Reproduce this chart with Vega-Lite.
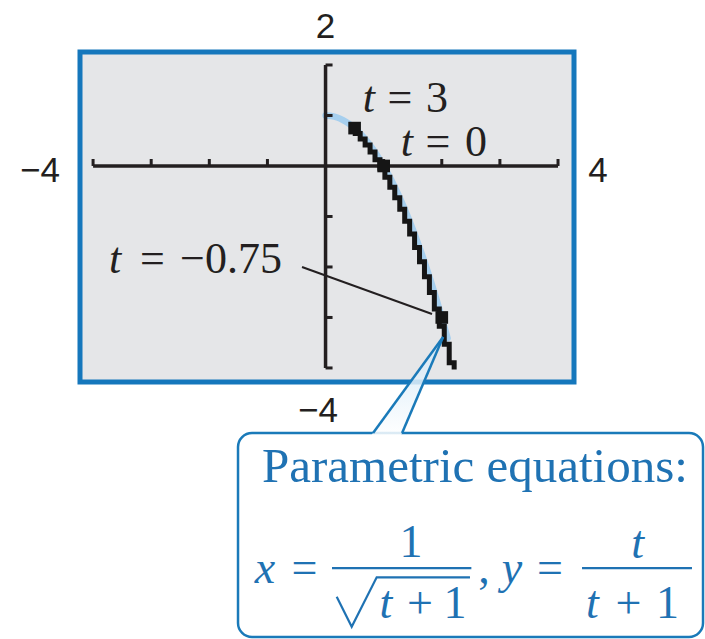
{
  "$schema": "https://vega.github.io/schema/vega-lite/v6.json",
  "autosize": {"type": "none"},
  "padding": {"left": 80, "top": 52, "right": 131, "bottom": 257},
  "width": 494,
  "height": 330,
  "background": "white",
  "config": {
    "view": {"fill": "#e5e6e8", "stroke": "#1577bc", "strokeWidth": 5}
  },
  "datasets": {
    "curve": [
      {"x": 0.0, "y": 1.0}, {"x": 0.1, "y": 0.99}, {"x": 0.2, "y": 0.96},
      {"x": 0.3, "y": 0.91}, {"x": 0.4, "y": 0.84}, {"x": 0.5, "y": 0.75},
      {"x": 0.6, "y": 0.64}, {"x": 0.7, "y": 0.51}, {"x": 0.8, "y": 0.36},
      {"x": 0.9, "y": 0.19}, {"x": 1.0, "y": 0.0}, {"x": 1.1, "y": -0.21},
      {"x": 1.2, "y": -0.44}, {"x": 1.3, "y": -0.69}, {"x": 1.4, "y": -0.96},
      {"x": 1.5, "y": -1.25}, {"x": 1.6, "y": -1.56}, {"x": 1.7, "y": -1.89},
      {"x": 1.8, "y": -2.24}, {"x": 1.9, "y": -2.61}, {"x": 2.0, "y": -3.0},
      {"x": 2.1, "y": -3.41}
    ],
    "trace": [
      {"x": 0.511, "y": 0.739}, {"x": 0.596, "y": 0.645}, {"x": 0.681, "y": 0.536},
      {"x": 0.766, "y": 0.413}, {"x": 0.851, "y": 0.276}, {"x": 0.936, "y": 0.124},
      {"x": 1.021, "y": -0.043}, {"x": 1.106, "y": -0.224}, {"x": 1.191, "y": -0.419},
      {"x": 1.277, "y": -0.63}, {"x": 1.362, "y": -0.855}, {"x": 1.447, "y": -1.094},
      {"x": 1.532, "y": -1.347}, {"x": 1.617, "y": -1.615}, {"x": 1.702, "y": -1.897},
      {"x": 1.787, "y": -2.194}, {"x": 1.872, "y": -2.505}, {"x": 1.957, "y": -2.831},
      {"x": 2.043, "y": -3.172}, {"x": 2.128, "y": -3.528}, {"x": 2.213, "y": -3.897},
      {"x": 2.213, "y": -3.98}
    ],
    "marked": [
      {"t": 3, "x": 0.5, "y": 0.75},
      {"t": 0, "x": 1.0, "y": 0.0},
      {"t": -0.75, "x": 2.0, "y": -3.0}
    ],
    "axes": [
      {"x": -4, "x2": 4, "y": 0, "y2": 0},
      {"x": 0, "x2": 0, "y": -4, "y2": 2}
    ],
    "xticks": [
      {"x": -4, "y": 0}, {"x": -3, "y": 0}, {"x": -2, "y": 0}, {"x": -1, "y": 0},
      {"x": 1, "y": 0}, {"x": 2, "y": 0}, {"x": 3, "y": 0}, {"x": 4, "y": 0}
    ],
    "yticks": [
      {"x": 0, "y": -4}, {"x": 0, "y": -3}, {"x": 0, "y": -2}, {"x": 0, "y": -1},
      {"x": 0, "y": 1}, {"x": 0, "y": 2}
    ],
    "leader": [{"x": -0.405, "y": -2.0, "x2": 1.832, "y2": -2.931}],
    "window": [
      {"label": "2", "x": 0.0, "y": 2.534},
      {"label": "−4", "x": -4.913, "y": -0.317},
      {"label": "4", "x": 4.688, "y": -0.317},
      {"label": "−4", "x": -0.13, "y": -5.07}
    ],
    "tItalic": [
      {"label": "t", "x": 0.747, "y": 1.075},
      {"label": "t", "x": 1.401, "y": 0.191},
      {"label": "t", "x": -3.623, "y": -2.12}
    ],
    "tRoman": [
      {"label": "=", "x": 1.281, "y": 1.075},
      {"label": "3", "x": 1.918, "y": 1.075},
      {"label": "=", "x": 1.935, "y": 0.191},
      {"label": "0", "x": 2.589, "y": 0.191},
      {"label": "=", "x": -2.978, "y": -2.12},
      {"label": "−0.75", "x": -1.627, "y": -2.12}
    ],
    "callout": [{"x": -1.506, "x2": 6.495, "y": -5.288, "y2": -9.328}],
    "tailFill": [
      {"y": -5.348, "x": 0.779, "x2": 1.293},
      {"y": -3.386, "x": 2.023, "x2": 2.023}
    ],
    "tailEdges": [
      {"x": 0.818, "y": -5.288, "x2": 2.023, "y2": -3.386},
      {"x": 1.317, "y": -5.288, "x2": 2.023, "y2": -3.386}
    ],
    "heading": [{"label": "Parametric equations:", "x": -1.093, "y": -6.253}],
    "mathItalic": [
      {"label": "x", "x": -1.042, "y": -8.259},
      {"label": "t", "x": 1.04, "y": -8.952},
      {"label": "y", "x": 3.208, "y": -8.259},
      {"label": "t", "x": 5.368, "y": -7.769},
      {"label": "t", "x": 4.593, "y": -8.952}
    ],
    "mathRoman": [
      {"label": "=", "x": -0.362, "y": -8.259},
      {"label": "1", "x": 1.47, "y": -7.744},
      {"label": "+", "x": 1.625, "y": -8.952},
      {"label": "1", "x": 2.227, "y": -8.952},
      {"label": ",", "x": 2.727, "y": -8.259},
      {"label": "=", "x": 3.862, "y": -8.259},
      {"label": "+", "x": 5.213, "y": -8.952},
      {"label": "1", "x": 5.884, "y": -8.952}
    ],
    "bars": [
      {"x": 0.111, "x2": 2.509, "y": -7.962, "y2": -7.962},
      {"x": 4.413, "x2": 6.305, "y": -7.962, "y2": -7.962}
    ],
    "radical": [
      {"x": 0.192, "y": -8.53},
      {"x": 0.45, "y": -9.124},
      {"x": 0.88, "y": -8.146},
      {"x": 2.485, "y": -8.146}
    ]
  },
  "encoding": {
    "x": {"field": "x", "type": "quantitative", "axis": null,
          "scale": {"domain": [-4.225, 4.275], "nice": false, "zero": false}},
    "y": {"field": "y", "type": "quantitative", "axis": null,
          "scale": {"domain": [-4.278, 2.257], "nice": false, "zero": false}}
  },
  "layer": [
    {
      "data": {"name": "curve"},
      "mark": {"type": "line", "color": "#a6cfee", "strokeWidth": 6.5, "interpolate": "monotone", "strokeCap": "round"}
    },
    {
      "data": {"name": "axes"},
      "mark": {"type": "rule", "color": "#231f20", "strokeWidth": 3.5},
      "encoding": {"x2": {"field": "x2"}, "y2": {"field": "y2"}}
    },
    {
      "data": {"name": "xticks"},
      "mark": {"type": "point", "shape": "M0,0L0,-1", "size": 196, "filled": false, "color": "#231f20", "strokeWidth": 3, "opacity": 1}
    },
    {
      "data": {"name": "yticks"},
      "mark": {"type": "point", "shape": "M0,0L1,0", "size": 196, "filled": false, "color": "#231f20", "strokeWidth": 3, "opacity": 1}
    },
    {
      "data": {"name": "trace"},
      "mark": {"type": "line", "color": "#151515", "strokeWidth": 5, "interpolate": "step-before", "strokeCap": "square", "strokeJoin": "miter"},
      "encoding": {"order": {"value": null}}
    },
    {
      "data": {"name": "marked"},
      "mark": {"type": "point", "shape": "square", "filled": true, "color": "#151515", "size": 160, "opacity": 1}
    },
    {
      "data": {"name": "leader"},
      "mark": {"type": "rule", "color": "#231f20", "strokeWidth": 2},
      "encoding": {"x2": {"field": "x2"}, "y2": {"field": "y2"}}
    },
    {
      "data": {"name": "window"},
      "mark": {"type": "text", "font": "Liberation Sans", "fontSize": 35, "color": "#231f20", "align": "center", "baseline": "alphabetic"},
      "encoding": {"text": {"field": "label"}}
    },
    {
      "data": {"name": "tItalic"},
      "mark": {"type": "text", "font": "Liberation Serif", "fontStyle": "italic", "fontSize": 44, "color": "#231f20", "align": "center", "baseline": "alphabetic"},
      "encoding": {"text": {"field": "label"}}
    },
    {
      "data": {"name": "tRoman"},
      "mark": {"type": "text", "font": "Liberation Serif", "fontSize": 44, "color": "#231f20", "align": "center", "baseline": "alphabetic"},
      "encoding": {"text": {"field": "label"}}
    },
    {
      "data": {"name": "callout"},
      "mark": {"type": "rect", "fill": "white", "stroke": "#1a7ab9", "strokeWidth": 2.5, "cornerRadius": 14},
      "encoding": {"x2": {"field": "x2"}, "y2": {"field": "y2"}}
    },
    {
      "data": {"name": "tailFill"},
      "mark": {
        "type": "area", "orient": "horizontal", "opacity": 0.85,
        "fill": {
          "gradient": "linear", "x1": 0, "y1": 1, "x2": 0, "y2": 0,
          "stops": [{"offset": 0, "color": "#ffffff"}, {"offset": 1, "color": "#cde5f6"}]
        }
      },
      "encoding": {"x2": {"field": "x2"}}
    },
    {
      "data": {"name": "tailEdges"},
      "mark": {"type": "rule", "color": "#1a7ab9", "strokeWidth": 2.5},
      "encoding": {"x2": {"field": "x2"}, "y2": {"field": "y2"}}
    },
    {
      "data": {"name": "heading"},
      "mark": {"type": "text", "font": "Liberation Serif", "fontSize": 49, "color": "#1f72b3", "align": "left", "baseline": "alphabetic"},
      "encoding": {"text": {"field": "label"}}
    },
    {
      "data": {"name": "mathItalic"},
      "mark": {"type": "text", "font": "Liberation Serif", "fontStyle": "italic", "fontSize": 46, "color": "#1f72b3", "align": "center", "baseline": "alphabetic"},
      "encoding": {"text": {"field": "label"}}
    },
    {
      "data": {"name": "mathRoman"},
      "mark": {"type": "text", "font": "Liberation Serif", "fontSize": 46, "color": "#1f72b3", "align": "center", "baseline": "alphabetic"},
      "encoding": {"text": {"field": "label"}}
    },
    {
      "data": {"name": "bars"},
      "mark": {"type": "rule", "color": "#1f72b3", "strokeWidth": 2.2},
      "encoding": {"x2": {"field": "x2"}, "y2": {"field": "y2"}}
    },
    {
      "data": {"name": "radical"},
      "mark": {"type": "line", "color": "#1f72b3", "strokeWidth": 2.2, "strokeJoin": "miter"},
      "encoding": {"order": {"value": null}}
    }
  ]
}
